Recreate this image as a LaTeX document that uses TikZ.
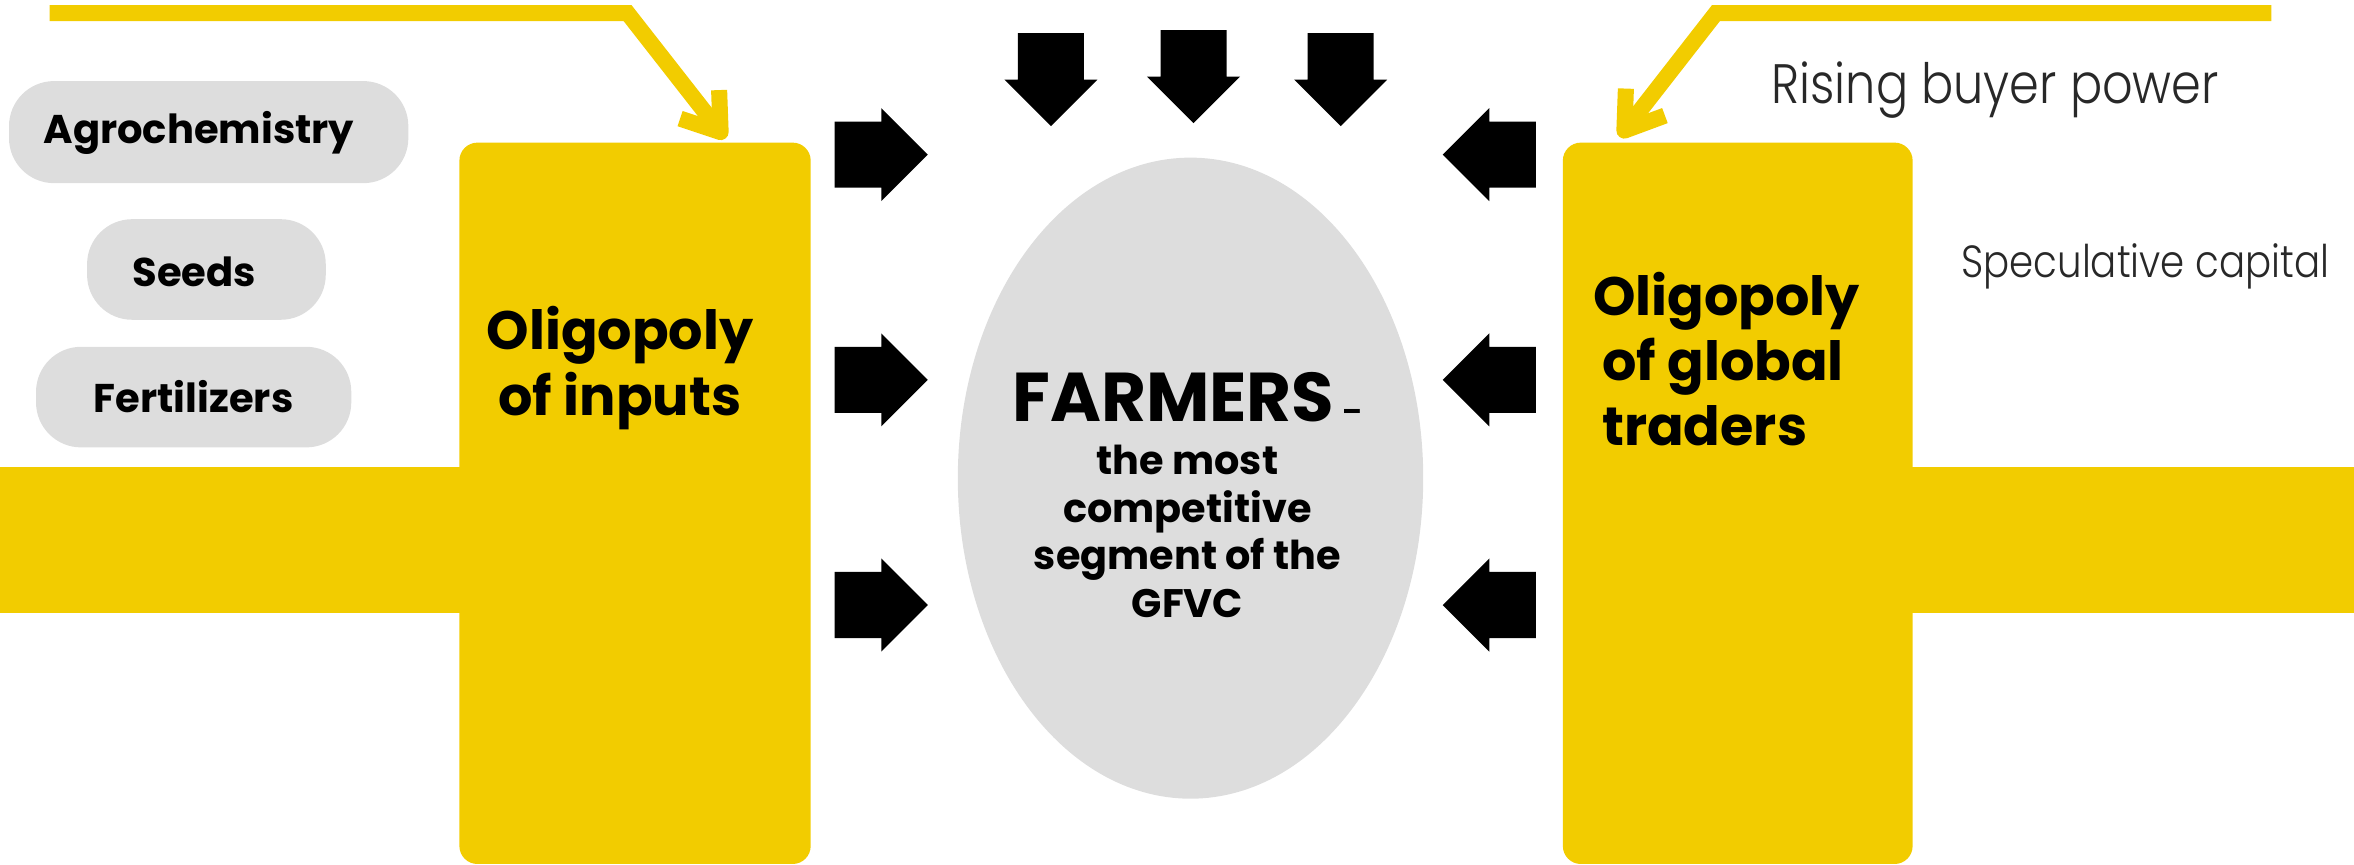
\documentclass[tikz,border=0pt]{standalone}
\usepackage{fontspec}
\setmainfont{Poppins}
\IfFontExistsTF{Poppins Light}{\newfontfamily\lightfont{Poppins Light}}{\newfontfamily\lightfont{Poppins}}
\usetikzlibrary{shapes.geometric}
\definecolor{ylw}{RGB}{242,204,0}
\definecolor{pillgray}{RGB}{221,221,221}
\definecolor{thintext}{RGB}{40,40,40}
\tikzset{
  yline/.style={draw=ylw, line width=10.7pt, line join=miter},
  ybarb/.style={draw=ylw, line width=10.7pt, line join=round},
  pill/.style={fill=pillgray, rounded corners=30pt, inner sep=0pt},
  pilltext/.style={font=\bfseries\fontsize{26.7}{30}\selectfont, anchor=base, inner sep=0pt},
  ybox/.style={fill=ylw, rounded corners=12pt, inner sep=0pt},
  boxtext/.style={font=\bfseries\fontsize{36}{43.5}\selectfont, anchor=base, inner sep=0pt},
  farmtext/.style={font=\bfseries\fontsize{26.5}{31.7}\selectfont, anchor=base, inner sep=0pt},
  lighttext/.style={font=\lightfont, text=thintext, anchor=base, inner sep=0pt},
  blockarrow/.pic={\fill[black] (0,-22) -- (31,-22) -- (31,-31) -- (62,0) -- (31,31) -- (31,22) -- (0,22) -- cycle;}
}
\begin{document}
\begin{tikzpicture}[x=1pt,y=-1pt]
\useasboundingbox (0,0) rectangle (1568,576);
% yellow bands
\fill[ylw] (0,311) rectangle (420,408);
\fill[ylw] (1150,311) rectangle (1568,408);
% yellow boxes
\node[ybox, minimum width=234pt, minimum height=480.5pt] (inputs) at (423,335.25) {};
\node[ybox, minimum width=233pt, minimum height=480.5pt] (traders) at (1157.5,335.25) {};
\node[boxtext] (inputstext) at (413,233) {\begin{tabular}[t]{@{}c@{}}Oligopoly\\of inputs\end{tabular}};
\node[boxtext, anchor=base west] (traderstext) at (1061,210) {\begin{tabular}[t]{@{}l@{}}Oligopoly\\\,of global\\\,traders\end{tabular}};
% pills
\node[pill, minimum width=266pt, minimum height=68pt] (agro) at (139,88) {};
\node[pill, minimum width=159pt, minimum height=67pt] (seeds) at (137.5,179.5) {};
\node[pill, minimum width=210pt, minimum height=67pt] (fert) at (129,264.5) {};
\node[pilltext] (agrot) at (132.5,95.3) {Agrochemistry};
\node[pilltext] (seedst) at (129.5,191) {Seeds};
\node[pilltext] (fertt) at (129,274.5) {Fertilizers};
% farmers ellipse
\node[ellipse, fill=pillgray, minimum width=310pt, minimum height=427pt, inner sep=0pt] (farmers) at (793,318.5) {};
\node[farmtext] (farmerstext) at (791,281) {\begin{tabular}[t]{@{}c@{}}{\fontsize{46}{48}\selectfont FARMERS} {\fontsize{19}{20}\selectfont –}\\[3.3pt]the most\\competitive\\segment of the\\GFVC\end{tabular}};
% black block arrows
\pic[rotate=-90] at (700,22) {blockarrow};
\pic[rotate=-90] at (795,20) {blockarrow};
\pic[rotate=-90] at (893,22) {blockarrow};
\pic at (556,103) {blockarrow};
\pic at (556,253) {blockarrow};
\pic at (556,403) {blockarrow};
\pic[rotate=180] at (1023,103) {blockarrow};
\pic[rotate=180] at (1023,253) {blockarrow};
\pic[rotate=180] at (1023,403) {blockarrow};
% yellow connectors
\coordinate (lstart) at (33,8.7);
\coordinate (lcorner) at (418,8.7);
\coordinate (ltip) at (480,88);
\coordinate (lb1) at (479,60);
\coordinate (lb2) at (453,79);
\draw[yline] (lstart) -- (lcorner) -- (ltip);
\draw[ybarb] (lb1) -- (ltip) -- (lb2);
\coordinate (rstart) at (1513,8.7);
\coordinate (rcorner) at (1143,8.7);
\coordinate (rtip) at (1082,87);
\coordinate (rb1) at (1083,59);
\coordinate (rb2) at (1109,77);
\draw[yline] (rstart) -- (rcorner) -- (rtip);
\draw[ybarb] (rb1) -- (rtip) -- (rb2);
% light texts
\node[lighttext, font=\lightfont\fontsize{37}{40}\selectfont] (rising) at (1329,69) {\scalebox{0.86}[1]{Rising buyer power}};
\node[lighttext, font=\lightfont\fontsize{30}{34}\selectfont] (spec) at (1429,185) {\scalebox{0.86}[1]{Speculative capital}};
\end{tikzpicture}
\end{document}
